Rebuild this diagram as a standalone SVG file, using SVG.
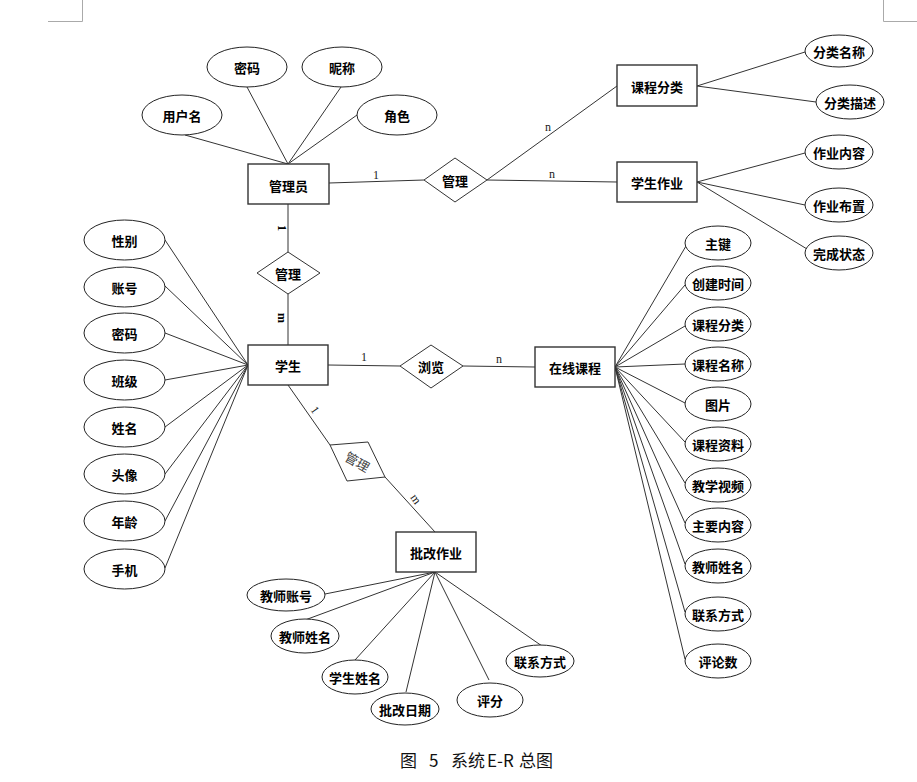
<svg xmlns="http://www.w3.org/2000/svg" width="917" height="782" viewBox="0 0 917 782">
<style>
.bg{fill:#fff}
.e{fill:#fff;stroke:#222;stroke-width:1}
.r{fill:#fff;stroke:#333;stroke-width:1.4}
.d{fill:#fff;stroke:#333;stroke-width:1}
.t{font-family:"Noto Sans CJK SC","Noto Sans",sans-serif;font-weight:bold;font-size:13px;fill:#000;text-anchor:middle;dominant-baseline:central}
.c line{stroke:#333;stroke-width:1}
.lb{font-family:"Liberation Serif",serif;font-size:12px;fill:#222;text-anchor:middle;dominant-baseline:central}
.mk{stroke:#aaa;stroke-width:1;fill:none}
.cap{font-family:"Noto Sans CJK SC","Noto Sans",sans-serif;font-size:17px;fill:#111}
</style>
<rect class="bg" x="0" y="0" width="917" height="782"/>
<path class="mk" d="M82.5,0 V21.5 H48 M883.5,0 V21.5 H917"/>

<g id="connectors" class="c">
<line x1="185" y1="135" x2="288" y2="164"/>
<line x1="247" y1="87" x2="288" y2="164"/>
<line x1="341" y1="87" x2="288" y2="164"/>
<line x1="357" y1="115" x2="288" y2="164"/>
<line x1="329" y1="183" x2="424" y2="180"/>
<line x1="487" y1="180" x2="617" y2="86"/>
<line x1="487" y1="180" x2="617" y2="182"/>
<line x1="697" y1="86" x2="805" y2="52"/>
<line x1="697" y1="86" x2="816" y2="102"/>
<line x1="697" y1="182" x2="805" y2="153"/>
<line x1="697" y1="182" x2="805" y2="205"/>
<line x1="697" y1="182" x2="807" y2="249"/>
<line x1="288" y1="204" x2="288" y2="252"/>
<line x1="288" y1="294" x2="288" y2="345"/>
<line x1="165" y1="240" x2="248" y2="365"/>
<line x1="165" y1="286" x2="248" y2="365"/>
<line x1="165" y1="333" x2="248" y2="365"/>
<line x1="165" y1="380" x2="248" y2="365"/>
<line x1="165" y1="427" x2="248" y2="365"/>
<line x1="165" y1="474" x2="248" y2="365"/>
<line x1="165" y1="521" x2="248" y2="365"/>
<line x1="165" y1="568" x2="248" y2="365"/>
<line x1="328" y1="365" x2="400" y2="366"/>
<line x1="463" y1="366" x2="535" y2="367"/>
<line x1="288" y1="385" x2="330" y2="445"/>
<line x1="385" y1="477" x2="435" y2="532"/>
<line x1="615" y1="367" x2="686" y2="246"/>
<line x1="615" y1="367" x2="685" y2="285"/>
<line x1="615" y1="367" x2="685" y2="326"/>
<line x1="615" y1="367" x2="685" y2="364"/>
<line x1="615" y1="367" x2="685" y2="403"/>
<line x1="615" y1="367" x2="685" y2="442"/>
<line x1="615" y1="367" x2="685" y2="483"/>
<line x1="615" y1="367" x2="685" y2="523"/>
<line x1="615" y1="367" x2="685" y2="564"/>
<line x1="615" y1="367" x2="685" y2="612"/>
<line x1="615" y1="367" x2="685" y2="659"/>
<line x1="325" y1="594" x2="435" y2="572"/>
<line x1="305" y1="620" x2="435" y2="572"/>
<line x1="355" y1="660" x2="435" y2="572"/>
<line x1="406" y1="692" x2="435" y2="572"/>
<line x1="489" y1="680" x2="435" y2="572"/>
<line x1="542" y1="646" x2="435" y2="572"/>
</g>

<g id="labels">
<text class="lb" x="376" y="175">1</text>
<text class="lb" x="548" y="127">n</text>
<text class="lb" x="552" y="174">n</text>
<text class="lb" x="364" y="357">1</text>
<text class="lb" x="499" y="359">n</text>
<text class="lb" x="282" y="228" transform="rotate(90 282 228)" style="font-weight:bold;fill:#000">1</text>
<text class="lb" x="282" y="318" transform="rotate(90 282 318)" style="font-weight:bold;fill:#000">m</text>
<text class="lb" x="315" y="410" transform="rotate(55 315 410)">1</text>
<text class="lb" x="416" y="499" transform="rotate(55 416 499)">m</text>
</g>

<g id="n-admin"><rect class="r" x="248" y="164" width="81" height="40"/><text class="t" x="288.5" y="185">管理员</text></g>
<g id="a-admin-user"><ellipse class="e" cx="182" cy="115" rx="40" ry="20"/><text class="t" x="182" y="115">用户名</text></g>
<g id="a-admin-pwd"><ellipse class="e" cx="247" cy="67" rx="40" ry="20"/><text class="t" x="247" y="67">密码</text></g>
<g id="a-admin-nick"><ellipse class="e" cx="342" cy="67" rx="40" ry="20"/><text class="t" x="342" y="67">昵称</text></g>
<g id="a-admin-role"><ellipse class="e" cx="397" cy="115" rx="40" ry="20"/><text class="t" x="397" y="115">角色</text></g>

<g id="r-manage1"><polygon class="d" points="424,180 455,158 487,180 455,202"/><text class="t" x="455" y="180">管理</text></g>

<g id="n-category"><rect class="r" x="617" y="65" width="80" height="41"/><text class="t" x="657" y="86">课程分类</text></g>
<g id="a-cat-name"><ellipse class="e" cx="839" cy="51" rx="34" ry="16"/><text class="t" x="839" y="51">分类名称</text></g>
<g id="a-cat-desc"><ellipse class="e" cx="850" cy="102" rx="34" ry="17"/><text class="t" x="850" y="102">分类描述</text></g>

<g id="n-homework"><rect class="r" x="617" y="162" width="80" height="40"/><text class="t" x="657" y="182">学生作业</text></g>
<g id="a-hw-content"><ellipse class="e" cx="839" cy="152" rx="34" ry="17"/><text class="t" x="839" y="152">作业内容</text></g>
<g id="a-hw-assign"><ellipse class="e" cx="839" cy="205" rx="34" ry="17"/><text class="t" x="839" y="205">作业布置</text></g>
<g id="a-hw-state"><ellipse class="e" cx="839" cy="253" rx="34" ry="17"/><text class="t" x="839" y="253">完成状态</text></g>

<g id="r-manage2"><polygon class="d" points="257,273 288,252 320,273 288,294"/><text class="t" x="288" y="273">管理</text></g>

<g id="n-student"><rect class="r" x="248" y="345" width="80" height="40"/><text class="t" x="288" y="365">学生</text></g>
<g id="a-st-sex"><ellipse class="e" cx="124.5" cy="240" rx="40.5" ry="20"/><text class="t" x="124.5" y="240">性别</text></g>
<g id="a-st-acc"><ellipse class="e" cx="124.5" cy="287" rx="40.5" ry="20"/><text class="t" x="124.5" y="287">账号</text></g>
<g id="a-st-pwd"><ellipse class="e" cx="124.5" cy="333" rx="40.5" ry="20"/><text class="t" x="124.5" y="333">密码</text></g>
<g id="a-st-class"><ellipse class="e" cx="124.5" cy="380" rx="40.5" ry="20"/><text class="t" x="124.5" y="380">班级</text></g>
<g id="a-st-name"><ellipse class="e" cx="124.5" cy="427" rx="40.5" ry="20"/><text class="t" x="124.5" y="427">姓名</text></g>
<g id="a-st-avatar"><ellipse class="e" cx="124.5" cy="474" rx="40.5" ry="20"/><text class="t" x="124.5" y="474">头像</text></g>
<g id="a-st-age"><ellipse class="e" cx="124.5" cy="521" rx="40.5" ry="20"/><text class="t" x="124.5" y="521">年龄</text></g>
<g id="a-st-phone"><ellipse class="e" cx="124.5" cy="569" rx="40.5" ry="20"/><text class="t" x="124.5" y="569">手机</text></g>

<g id="r-browse"><polygon class="d" points="400,366 431,345 463,366 431,388"/><text class="t" x="431" y="366">浏览</text></g>

<g id="n-course"><rect class="r" x="535" y="347" width="80" height="40"/><text class="t" x="575" y="367">在线课程</text></g>
<g id="a-c-key"><ellipse class="e" cx="718" cy="243" rx="33" ry="17"/><text class="t" x="718" y="243">主键</text></g>
<g id="a-c-ctime"><ellipse class="e" cx="718" cy="283" rx="33" ry="17"/><text class="t" x="718" y="283">创建时间</text></g>
<g id="a-c-cat"><ellipse class="e" cx="718" cy="324" rx="33" ry="17"/><text class="t" x="718" y="324">课程分类</text></g>
<g id="a-c-name"><ellipse class="e" cx="718" cy="364" rx="33" ry="17"/><text class="t" x="718" y="364">课程名称</text></g>
<g id="a-c-pic"><ellipse class="e" cx="718" cy="404" rx="33" ry="17"/><text class="t" x="718" y="404">图片</text></g>
<g id="a-c-data"><ellipse class="e" cx="718" cy="444" rx="33" ry="17"/><text class="t" x="718" y="444">课程资料</text></g>
<g id="a-c-video"><ellipse class="e" cx="718" cy="485" rx="33" ry="17"/><text class="t" x="718" y="485">教学视频</text></g>
<g id="a-c-main"><ellipse class="e" cx="718" cy="525" rx="33" ry="17"/><text class="t" x="718" y="525">主要内容</text></g>
<g id="a-c-teacher"><ellipse class="e" cx="718" cy="566" rx="33" ry="17"/><text class="t" x="718" y="566">教师姓名</text></g>
<g id="a-c-contact"><ellipse class="e" cx="718" cy="614" rx="33" ry="17"/><text class="t" x="718" y="614">联系方式</text></g>
<g id="a-c-comments"><ellipse class="e" cx="718" cy="661" rx="33" ry="17"/><text class="t" x="718" y="661">评论数</text></g>

<g id="r-manage3"><polygon class="d" points="330,445 368,442 385,477 347,481"/><text class="t" x="357.5" y="461.5" transform="rotate(30 357.5 461.5)" style="font-weight:normal;fill:#444">管理</text></g>

<g id="n-correct"><rect class="r" x="396" y="532" width="80" height="40"/><text class="t" x="436" y="552">批改作业</text></g>
<g id="a-co-tacc"><ellipse class="e" cx="286" cy="595" rx="39" ry="16"/><text class="t" x="286" y="595">教师账号</text></g>
<g id="a-co-tname"><ellipse class="e" cx="305" cy="636" rx="34" ry="17"/><text class="t" x="305" y="636">教师姓名</text></g>
<g id="a-co-sname"><ellipse class="e" cx="355" cy="677" rx="33" ry="17"/><text class="t" x="355" y="677">学生姓名</text></g>
<g id="a-co-date"><ellipse class="e" cx="405" cy="709" rx="34" ry="16"/><text class="t" x="405" y="709">批改日期</text></g>
<g id="a-co-score"><ellipse class="e" cx="490" cy="700" rx="33" ry="17"/><text class="t" x="490" y="700">评分</text></g>
<g id="a-co-contact"><ellipse class="e" cx="540" cy="661" rx="34" ry="16"/><text class="t" x="540" y="661">联系方式</text></g>

<text class="cap" y="767"><tspan x="400">图</tspan><tspan x="429">5</tspan><tspan x="451">系统</tspan><tspan x="487">E-R</tspan><tspan x="519">总图</tspan></text>
</svg>
